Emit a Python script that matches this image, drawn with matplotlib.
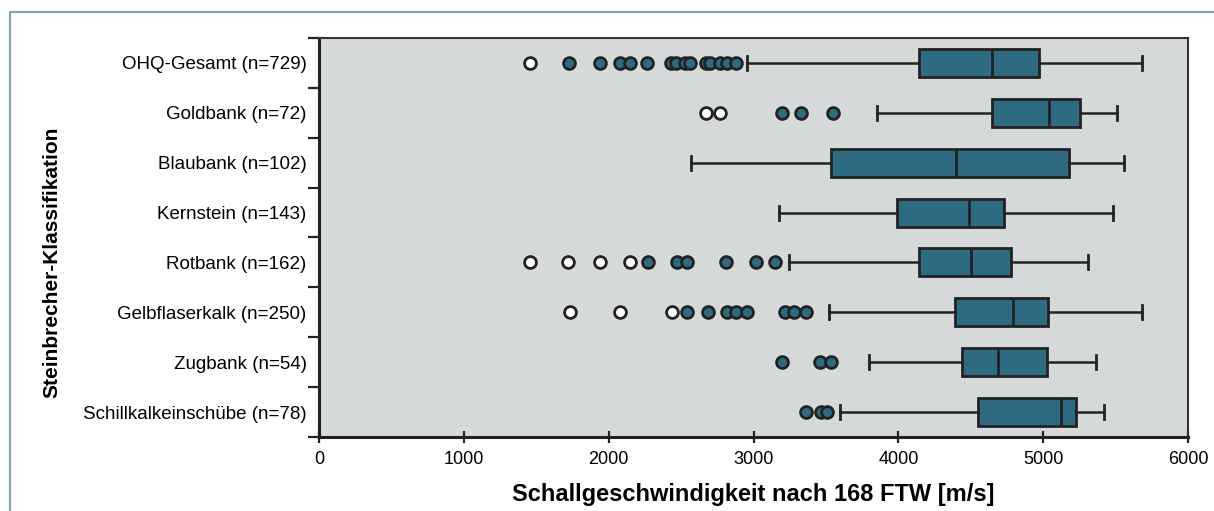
import numpy as np
import matplotlib.pyplot as plt
from matplotlib.patches import Rectangle

# categories, top to bottom
categories = ['OHQ-Gesamt (n=729)', 'Goldbank (n=72)', 'Blaubank (n=102)', 'Kernstein (n=143)',
              'Rotbank (n=162)', 'Gelbflaserkalk (n=250)', 'Zugbank (n=54)', 'Schillkalkeinschübe (n=78)']

# box statistics [m/s]
whislo = [2955, 3850, 2570, 3175, 3245, 3520, 3800, 3595]
q1     = [4145, 4650, 3535, 3990, 4145, 4390, 4440, 4550]
med    = [4650, 5040, 4400, 4485, 4500, 4790, 4690, 5120]
q3     = [4970, 5255, 5175, 4730, 4775, 5035, 5025, 5225]
whishi = [5680, 5510, 5555, 5480, 5310, 5680, 5365, 5420]

# mild outliers (filled) and extreme outliers (hollow)
mild = [
    [1728, 1940, 2075, 2145, 2265, 2430, 2465, 2530, 2565, 2670, 2700, 2770, 2820, 2880],
    [3200, 3330, 3550],
    [],
    [],
    [2270, 2470, 2540, 2810, 3020, 3150],
    [2540, 2685, 2820, 2880, 2955, 3215, 3280, 3360],
    [3200, 3460, 3535],
    [3360, 3465, 3510],
]
extreme = [
    [1457],
    [2670, 2770],
    [],
    [],
    [1460, 1722, 1940, 2145],
    [1733, 2080, 2435],
    [],
    [],
]

xticks = [0, 1000, 2000, 3000, 4000, 5000, 6000]

box_color = '#2e6a80'
edge = '#222222'
bg = '#d5d9da'

plt.rcParams['font.family'] = ['Liberation Sans', 'DejaVu Sans']

fig = plt.figure(figsize=(12.14, 5.11), dpi=100)
ax = fig.add_axes([319 / 1214, 74 / 511, 869 / 1214, 399 / 511])
ax.set_facecolor(bg)

pos = np.arange(1, len(categories) + 1)
stats = []
for i in range(len(categories)):
    stats.append(dict(whislo=whislo[i], q1=q1[i], med=med[i], q3=q3[i],
                      whishi=whishi[i], fliers=[]))

ax.bxp(stats, positions=pos, vert=False, widths=0.56, patch_artist=True,
       showfliers=False,
       boxprops=dict(facecolor=box_color, edgecolor=edge, linewidth=2),
       medianprops=dict(color=edge, linewidth=2),
       whiskerprops=dict(color=edge, linewidth=1.8),
       capprops=dict(color=edge, linewidth=2),
       capwidths=0.28)

for i in range(len(categories)):
    if mild[i]:
        ax.plot(mild[i], [pos[i]] * len(mild[i]), 'o', ms=8.5, mfc=box_color,
                mec=edge, mew=2, zorder=4)
    if extreme[i]:
        ax.plot(extreme[i], [pos[i]] * len(extreme[i]), 'o', ms=8.5, mfc='white',
                mec=edge, mew=2, zorder=4)

ax.set_xlim(0, 6000)
ax.set_ylim(len(categories) + 0.5, 0.5)
ax.set_xticks(xticks)
ax.set_xticklabels([str(t) for t in xticks], fontsize=13)
ax.set_yticks(pos)
ax.set_yticklabels(categories, fontsize=13.5)
ax.tick_params(axis='y', which='major', length=0, pad=9)
ax.set_yticks(np.arange(0.5, len(categories) + 1), minor=True)
ax.tick_params(axis='y', which='minor', length=8, width=1.6, color=edge)
ax.tick_params(axis='x', which='major', length=8, width=1.6, color=edge, direction='inout', pad=6)

for s in ['left', 'bottom']:
    ax.spines[s].set_linewidth(2.2)
    ax.spines[s].set_color(edge)
for s in ['top', 'right']:
    ax.spines[s].set_linewidth(1.5)
    ax.spines[s].set_color('#333333')

ax.set_xlabel('Schallgeschwindigkeit nach 168 FTW [m/s]', fontsize=17, fontweight='bold',
              labelpad=11)
fig.text(52 / 1214, 0.5 + (511 / 2 - 262) / 511, 'Steinbrecher-Klassifikation', rotation=90,
         fontsize=15, fontweight='bold', ha='center', va='center')

# outer frame of the figure
fig.patches.append(Rectangle((10 / 1214, -0.1), 1.2, (499 / 511) + 0.1, transform=fig.transFigure,
                             fill=False, edgecolor='#7fa3b3', linewidth=1.5))

fig.savefig('out.png', dpi=100, facecolor='white')
